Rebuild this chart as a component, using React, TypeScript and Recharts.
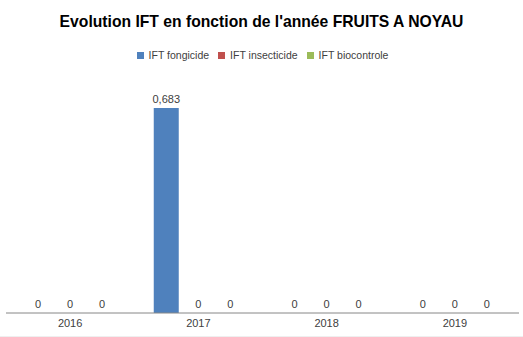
import React from "react";
import { BarChart, Bar, XAxis, YAxis, Legend, LabelList } from "recharts";

const years = ["2016", "2017", "2018", "2019"];
const fongicide = [0, 0.683, 0, 0];
const insecticide = [0, 0, 0, 0];
const biocontrole = [0, 0, 0, 0];

const series = [
  { key: "fongicide", name: "IFT fongicide", color: "#4F81BD" },
  { key: "insecticide", name: "IFT insecticide", color: "#C0504D" },
  { key: "biocontrole", name: "IFT biocontrole", color: "#9BBB59" },
];

const data = years.map((year, i) => ({
  year,
  fongicide: fongicide[i],
  insecticide: insecticide[i],
  biocontrole: biocontrole[i],
}));

const font = "'Liberation Sans', Arial, sans-serif";

const fmt = (v: any) => String(v).replace(".", ",");

const LegendContent = () => (
  <div style={{ display: "flex", justifyContent: "center", paddingTop: 6, fontFamily: font, fontSize: 10.5, color: "#404040" }}>
    {series.map((s, i) => (
      <div key={s.key} style={{ display: "flex", alignItems: "center", marginRight: i < series.length - 1 ? 9 : 0 }}>
        <span style={{ width: 7, height: 7, background: s.color, marginRight: 5, display: "inline-block" }} />
        <span style={{ lineHeight: "12px" }}>{s.name}</span>
      </div>
    ))}
  </div>
);

const ValueLabel = (props: any) => {
  const { x, y, width, value } = props;
  return (
    <text x={x + width / 2} y={y - 5} textAnchor="middle" fontFamily={font} fontSize={11} fill="#404040">
      {fmt(value)}
    </text>
  );
};

const App = () => {
  return (
    <div style={{ position: "fixed", left: 0, top: 0, width: 523, height: 337, background: "#fff" }}>
      <div
        style={{
          position: "absolute",
          left: 0,
          top: 10,
          width: 523,
          textAlign: "center",
          fontFamily: font,
          fontWeight: "bold",
          fontSize: 15.7,
          lineHeight: "24px",
          color: "#000",
          zIndex: 2,
        }}
      >
        Evolution IFT en fonction de l'année FRUITS A NOYAU
      </div>
      <BarChart
        width={523}
        height={337}
        data={data}
        margin={{ top: 43, right: 4, bottom: 4, left: 6 }}
        barCategoryGap={19.5}
        barGap={7}
      >
        <Legend verticalAlign="top" height={30} content={<LegendContent />} />
        <XAxis
          dataKey="year"
          axisLine={{ stroke: "#868686" }}
          tickLine={false}
          tickSize={6}
          tickMargin={0}
          height={20}
          tick={{ fontFamily: font, fontSize: 11, fill: "#404040" }}
        />
        <YAxis hide domain={[0, 0.8]} />
        {series.map((s) => (
          <Bar key={s.key} dataKey={s.key} name={s.name} fill={s.color} minPointSize={0.01} isAnimationActive={false}>
            <LabelList dataKey={s.key} content={<ValueLabel />} />
          </Bar>
        ))}
      </BarChart>
      <div style={{ position: "absolute", left: 0, top: 336, width: 523, height: 1, background: "#EFEFEF" }} />
    </div>
  );
};

export default App;
